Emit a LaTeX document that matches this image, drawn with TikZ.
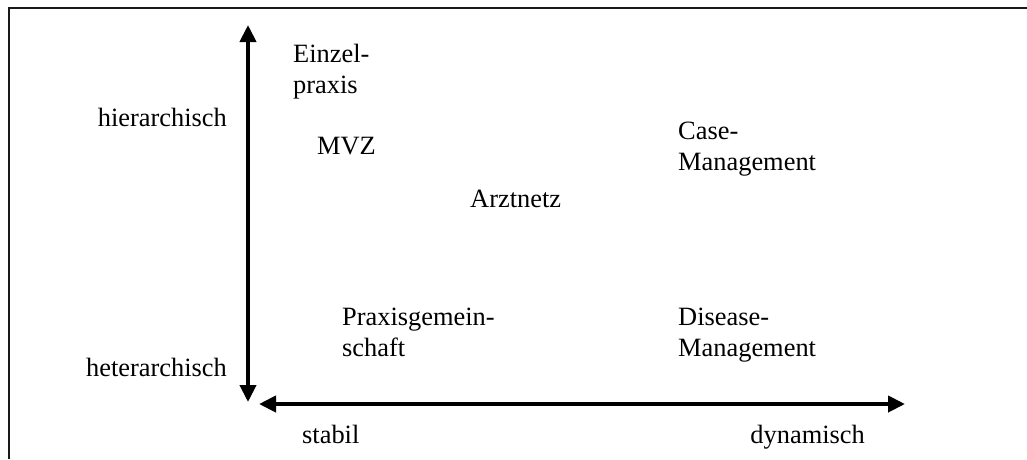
\documentclass[tikz,border=0pt]{standalone}
\usepackage{fontspec}
\setmainfont{Liberation Serif}
\usetikzlibrary{arrows.meta}
\begin{document}
\begin{tikzpicture}[x=1pt,y=-1pt,
  lbl/.style={inner sep=0pt, align=left, font=\fontsize{26.4}{31}\selectfont},
  axis/.style={line width=4pt, {Triangle[length=17pt,width=16pt]}-{Triangle[length=17pt,width=16pt]}},
  frame/.style={line width=2pt, draw=black!90}]
\useasboundingbox (0,0) rectangle (1027,459);
% open frame: top and left edges
\coordinate (fbl) at (9,459);
\coordinate (ftl) at (9,8);
\coordinate (ftr) at (1027,8);
\draw[frame] (fbl) -- (ftl) -- (ftr);
% axes
\coordinate (ytop) at (248,25);
\coordinate (ybot) at (248,402);
\coordinate (xleft) at (259,404);
\coordinate (xright) at (905,404);
\draw[axis] (ybot) -- (ytop);
\draw[axis] (xleft) -- (xright);
% axis labels
\node[lbl, anchor=base east] (hier) at (227,126) {hierarchisch};
\node[lbl, anchor=base east] (heter) at (227,376) {heterarchisch};
\node[lbl, anchor=base west] (stab) at (302,443) {stabil};
\node[lbl, anchor=base east] (dyn) at (865,443) {dynamisch};
% organisation forms (base anchor = baseline of the last line)
\node[lbl, anchor=base west] (einzel) at (293,93) {Einzel-\\praxis};
\node[lbl, anchor=base west] (mvz) at (317,154) {MVZ};
\node[lbl, anchor=base west] (netz) at (470,207) {Arztnetz};
\node[lbl, anchor=base west] (case) at (678,170) {Case-\\Management};
\node[lbl, anchor=base west] (praxg) at (342,356) {Praxisgemein-\\schaft};
\node[lbl, anchor=base west] (disease) at (678,356) {Disease-\\Management};
\end{tikzpicture}
\end{document}
